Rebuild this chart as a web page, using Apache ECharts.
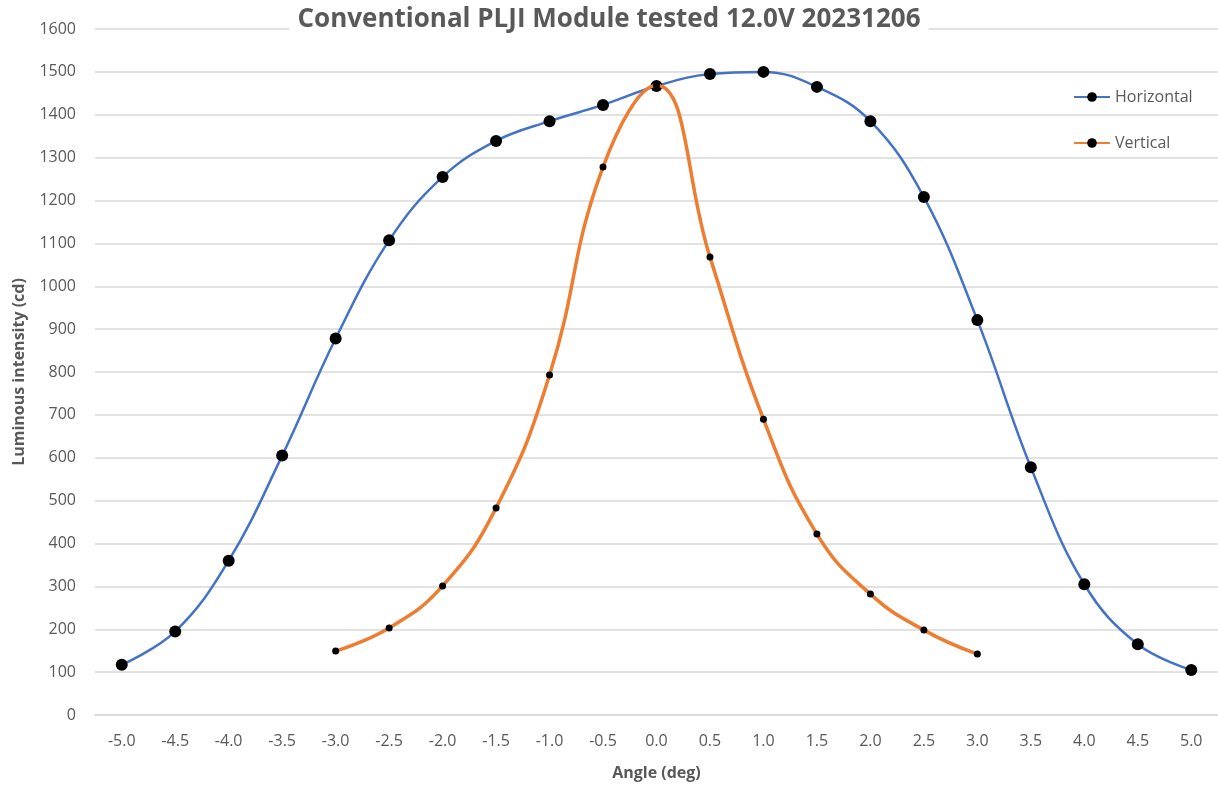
<!DOCTYPE html>
<html>
<head>
<meta charset="utf-8">
<script src="https://cdn.jsdelivr.net/npm/echarts@6/dist/echarts.min.js"></script>
<style>
  html, body { margin: 0; padding: 0; background: #fff; }
  #chart { width: 1218px; height: 787px; }
</style>
</head>
<body>
<div id="chart"></div>
<script>
// angles (deg)
var angles = ["-5.0", "-4.5", "-4.0", "-3.5", "-3.0", "-2.5", "-2.0", "-1.5", "-1.0", "-0.5",
  "0.0", "0.5", "1.0", "1.5", "2.0", "2.5", "3.0", "3.5", "4.0", "4.5", "5.0"];

var horizontal = [117, 195, 360, 605, 878, 1107, 1255, 1339, 1385, 1423,
  1467, 1495, 1500, 1465, 1385, 1208, 921, 578, 305, 165, 105];

var vertical = [null, null, null, null, 149, 203, 301, 483, 793, 1278,
  1469, 1068, 690, 422, 282, 198, 142, null, null, null, null];

var textColor = "#595959";
var fontFam = "'Open Sans', sans-serif";

var myChart = echarts.init(document.getElementById("chart"));
myChart.setOption({
  animation: false,
  title: {
    text: "Conventional PLJI Module tested 12.0V 20231206",
    left: "center",
    top: 6,
    backgroundColor: "#fff",
    padding: [1, 8],
    textStyle: { color: textColor, fontSize: 26, fontWeight: "bold", fontFamily: fontFam }
  },
  grid: { left: 95, right: 0, top: 29, bottom: 72, outerBoundsMode: "none", containLabel: false },
  legend: {
    orient: "vertical",
    left: 1068,
    top: 84,
    itemWidth: 36,
    itemHeight: 12,
    itemGap: 30,
    textStyle: { color: textColor, fontSize: 16, fontFamily: fontFam },
    data: ["Horizontal", "Vertical"]
  },
  xAxis: {
    type: "category",
    data: angles,
    boundaryGap: true,
    name: "Angle (deg)",
    nameLocation: "middle",
    nameGap: 50,
    nameTextStyle: { color: textColor, fontSize: 16, fontWeight: "bold", fontFamily: fontFam },
    axisLine: { lineStyle: { color: "#d9d9d9", width: 1.5 } },
    axisTick: { show: false },
    axisLabel: { color: textColor, fontSize: 16, margin: 18, interval: 0, fontFamily: fontFam }
  },
  yAxis: {
    type: "value",
    min: 0,
    max: 1600,
    interval: 100,
    name: "Luminous intensity (cd)",
    nameLocation: "middle",
    nameGap: 68,
    nameTextStyle: { color: textColor, fontSize: 16, fontWeight: "bold", fontFamily: fontFam },
    axisLine: { show: false },
    axisTick: { show: false },
    axisLabel: {
      color: textColor, fontSize: 16, margin: 19, fontFamily: fontFam,
      formatter: function (v) { return String(v); }
    },
    splitLine: { lineStyle: { color: "#d9d9d9", width: 1.5 } }
  },
  series: [
    {
      name: "Horizontal",
      type: "line",
      data: horizontal,
      smooth: 0.4,
      symbol: "circle",
      symbolSize: 12,
      color: "#4472C4",
      itemStyle: { color: "#000" },
      lineStyle: { color: "#4472C4", width: 2.5 },
      z: 2
    },
    {
      name: "Vertical",
      type: "line",
      data: vertical,
      smooth: 0.45,
      connectNulls: false,
      symbol: "circle",
      symbolSize: 7,
      color: "#ED7D31",
      itemStyle: { color: "#000" },
      lineStyle: { color: "#ED7D31", width: 3.5 },
      z: 3
    }
  ]
});
</script>
</body>
</html>
